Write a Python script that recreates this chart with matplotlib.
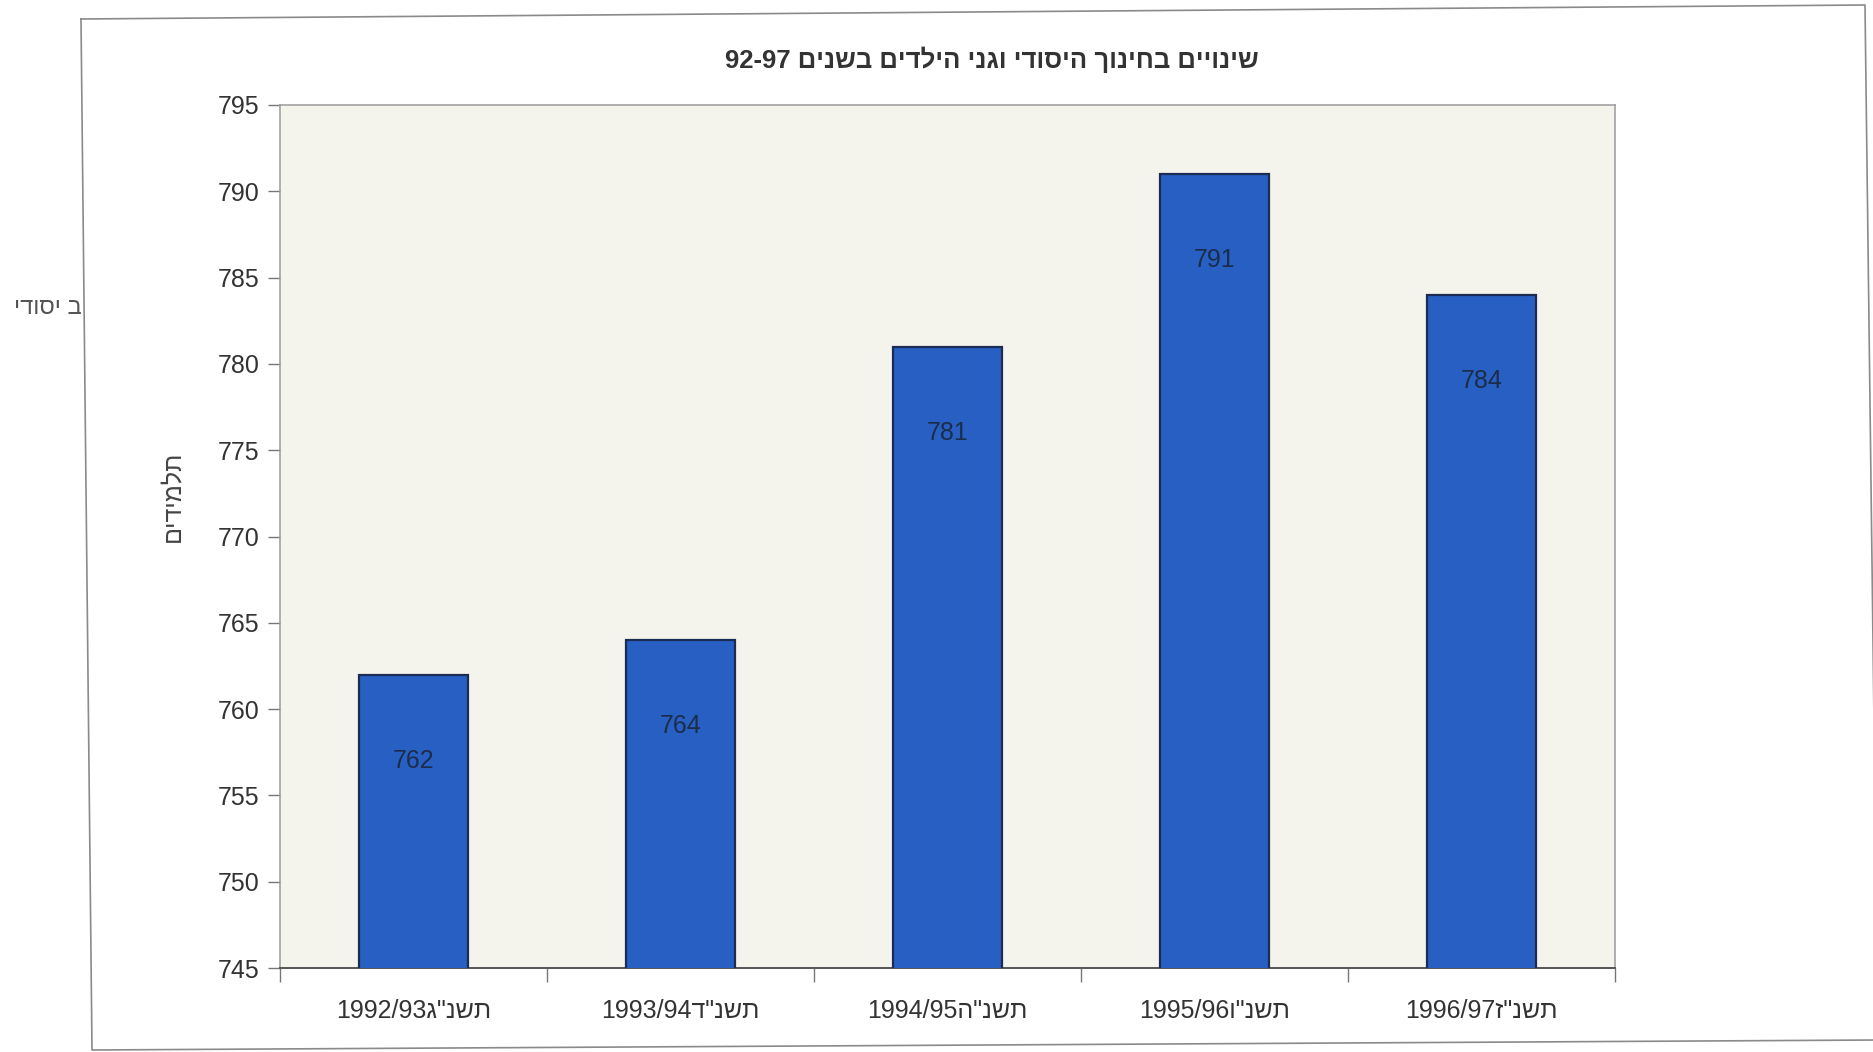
import numpy as np
import matplotlib
matplotlib.use("Agg")
import matplotlib.pyplot as plt
from matplotlib.lines import Line2D
from matplotlib.transforms import Bbox, TransformedBbox

plt.rcParams['font.family'] = ['Liberation Sans', 'DejaVu Sans']


def vis(s):
    # matplotlib draws left to right, so Hebrew runs are reversed for display
    return s[::-1]


# data
years = ['1992/93', '1993/94', '1994/95', '1995/96', '1996/97']
heb_years = ['תשנ"ג', 'תשנ"ד', 'תשנ"ה', 'תשנ"ו', 'תשנ"ז']
students = [762, 764, 781, 791, 784]
title_heb = 'שינויים בחינוך היסודי וגני הילדים בשנים'
title_num = '92-97'
ylabel = 'תלמידים'
stray = 'ב יסודי'

W, H = 1874, 1052
fig = plt.figure(figsize=(W / 100, H / 100), dpi=100)
fig.patch.set_facecolor('white')

# outer frame of the chart (scan is slightly tilted)
fx = [81, 1865, 1878, 92, 81]
fy = [19, 5, 1040, 1050, 19]
fig.add_artist(Line2D([x / W for x in fx], [1 - y / H for y in fy],
                      transform=fig.transFigure, color='#8a8a8a', lw=1.2))

ax = fig.add_axes([280 / W, 1 - 968 / H, 1335 / W, 863 / H])
ax.set_facecolor('#f5f4ec')

x = np.arange(len(years))
bars = ax.bar(x, students, width=0.41, color='#275fc2',
              edgecolor='#1b2b52', linewidth=1.6, zorder=3)

for b, v in zip(bars, students):
    ax.annotate(str(v), (b.get_x() + b.get_width() / 2, v),
                xytext=(0, -62), textcoords='offset points',
                ha='center', va='center', fontsize=18, color='#1c2d4c', zorder=4)

ax.set_ylim(745, 795)
ax.set_xlim(-0.5, len(years) - 0.5)
ax.set_yticks(np.arange(745, 796, 5))
ax.tick_params(axis='y', direction='out', length=9, width=1, color='#777777',
               labelsize=18, labelcolor='#333333', pad=6)

ax.set_xticks(x)
ax.set_xticklabels([y + vis(h) for y, h in zip(years, heb_years)],
                   fontsize=18, color='#333333')
ax.set_xticks(np.arange(-0.5, len(years)), minor=True)
ax.tick_params(axis='x', which='major', length=0, pad=22)
ax.tick_params(axis='x', which='minor', direction='out', length=10,
               width=1, color='#777777')

for s in ['left', 'top', 'right']:
    ax.spines[s].set_color('#9a9a9a')
    ax.spines[s].set_linewidth(1.1)
ax.spines['bottom'].set_color('#555555')
ax.spines['bottom'].set_linewidth(1.4)

ax.set_ylabel(vis(ylabel), fontsize=18, color='#444444')
ax.yaxis.set_label_coords(-0.072, 0.547)

fig.text(992 / W, 1 - 60 / H, title_num + ' ' + vis(title_heb),
         ha='center', va='center', fontsize=18.5, fontweight='bold',
         color='#333333')

# piece of text from the neighbouring page, cut by the frame
t = fig.text(14 / W, 1 - 308 / H, vis(stray), ha='left', va='center',
             fontsize=17, color='#555555')
t.set_clip_box(TransformedBbox(Bbox([[0, 0], [84 / W, 1]]), fig.transFigure))
t.set_clip_on(True)

fig.savefig('out.png', dpi=100)
